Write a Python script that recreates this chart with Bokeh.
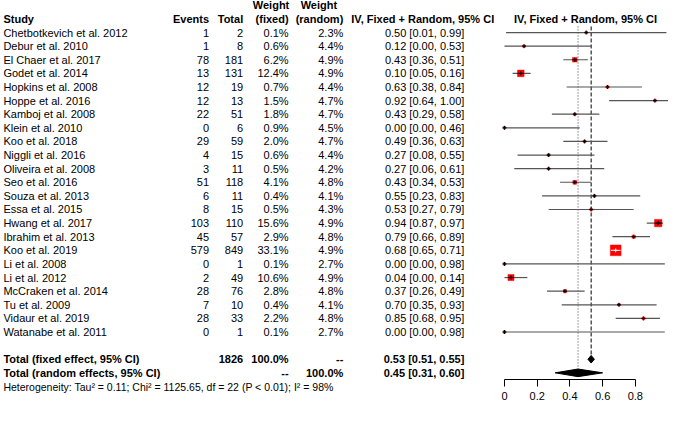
import math
from bokeh.plotting import figure
from bokeh.models import ColumnDataSource, Range1d, FixedTicker
from bokeh.core.properties import value
from bokeh.embed import file_html
from bokeh.resources import INLINE

# ---------------- data ----------------
studies = ["Chetbotkevich et al. 2012", "Debur et al. 2010", "El Chaer et al. 2017",
           "Godet et al. 2014", "Hopkins et al. 2008", "Hoppe et al. 2016",
           "Kamboj et al. 2008", "Klein et al. 2010", "Koo et al. 2018",
           "Niggli et al. 2016", "Oliveira et al. 2008", "Seo et al. 2016",
           "Souza et al. 2013", "Essa et al. 2015", "Hwang et al. 2017",
           "Ibrahim et al. 2013", "Koo et al. 2019", "Li et al. 2008", "Li et al. 2012",
           "McCraken et al. 2014", "Tu et al. 2009", "Vidaur et al. 2019",
           "Watanabe et al. 2011"]
events = [1, 1, 78, 13, 12, 12, 22, 0, 29, 4, 3, 51, 6, 8, 103, 45, 579, 0, 2, 28, 7, 28, 0]
totals = [2, 8, 181, 131, 19, 13, 51, 6, 59, 15, 11, 118, 11, 15, 110, 57, 849, 1, 49, 76, 10, 33, 1]
w_fixed = [0.1, 0.6, 6.2, 12.4, 0.7, 1.5, 1.8, 0.9, 2.0, 0.6, 0.5, 4.1, 0.4, 0.5, 15.6, 2.9,
           33.1, 0.1, 10.6, 2.8, 0.4, 2.2, 0.1]
w_random = [2.3, 4.4, 4.9, 4.9, 4.4, 4.7, 4.7, 4.5, 4.7, 4.4, 4.2, 4.8, 4.1, 4.3, 4.9, 4.8,
            4.9, 2.7, 4.9, 4.8, 4.1, 4.8, 2.7]
est = [0.50, 0.12, 0.43, 0.10, 0.63, 0.92, 0.43, 0.00, 0.49, 0.27, 0.27, 0.43, 0.55, 0.53,
       0.94, 0.79, 0.68, 0.00, 0.04, 0.37, 0.70, 0.85, 0.00]
lower = [0.01, 0.00, 0.36, 0.05, 0.38, 0.64, 0.29, 0.00, 0.36, 0.08, 0.06, 0.34, 0.23, 0.27,
         0.87, 0.66, 0.65, 0.00, 0.00, 0.26, 0.35, 0.68, 0.00]
upper = [0.99, 0.53, 0.51, 0.16, 0.84, 1.00, 0.58, 0.46, 0.63, 0.55, 0.61, 0.53, 0.83, 0.79,
         0.97, 0.89, 0.71, 0.98, 0.14, 0.49, 0.93, 0.95, 0.98]

total_n = 1826
total_weight = "100.0%"
fixed_est, fixed_lo, fixed_hi = 0.53, 0.51, 0.55
random_est, random_lo, random_hi = 0.45, 0.31, 0.60
heterogeneity = "Heterogeneity: Tau\u00b2 = 0.11; Chi\u00b2 = 1125.65, df = 22 (P < 0.01); I\u00b2 = 98%"
col_header = "IV, Fixed + Random, 95% CI"
ticks = [0, 0.2, 0.4, 0.6, 0.8]
tick_labels = ["0", "0.2", "0.4", "0.6", "0.8"]

# ---------------- layout helpers ----------------
W, H = 669, 405
SX = W / 685.0
X0, XU = 516.0, 167.5          # reference pixel of effect 0, pixels per effect unit
ROW0, ROWH = 19.15, 14.15      # reference pixel of row 0, row spacing


def ex(X):
    return (X - X0) / XU


def ry(Y):
    return (Y - ROW0) / ROWH


AXIS_Y = 394.0
PX_PER_UNIT = XU * SX
FONT = value("Liberation Sans")

p = figure(frame_width=W, frame_height=H,
           x_range=Range1d(ex(0), ex(685)), y_range=Range1d(ry(421), ry(0)),
           output_backend="svg", toolbar_location=None,
           min_border_left=0, min_border_right=0, min_border_top=0,
           min_border_bottom=0, y_axis_location=None)
p.grid.visible = False
p.outline_line_color = None

ax = p.xaxis[0]
ax.fixed_location = ry(AXIS_Y)
ax.ticker = FixedTicker(ticks=ticks)
ax.bounds = (ticks[0], ticks[-1])
ax.major_label_overrides = {t: l for t, l in zip(ticks, tick_labels)}
ax.minor_tick_line_color = None
ax.major_tick_in = 0
ax.major_tick_out = 7
ax.major_label_standoff = 5
ax.axis_line_color = "black"
ax.major_tick_line_color = "black"
ax.major_label_text_color = "black"
ax.major_label_text_font = "Liberation Sans"
ax.major_label_text_font_size = "11px"

n = len(studies)
rows = list(range(1, n + 1))
ROW_FIXED = n + 2
ROW_RANDOM = n + 3

# ---------------- reference lines ----------------
p.segment(x0=[fixed_est], y0=[ry(27)], x1=[fixed_est], y1=[ROW_FIXED - 0.3],
          line_color="black", line_width=1, line_dash="4 2")
p.segment(x0=[random_est], y0=[ry(27)], x1=[random_est], y1=[ROW_RANDOM - 0.3],
          line_color="#444444", line_width=1, line_dash="1 2")

# ---------------- study CIs and squares ----------------
sizes = [max(11 * SX * math.sqrt(w / max(w_fixed)), 2.5) for w in w_fixed]
hw = [s / 2 / PX_PER_UNIT for s in sizes]
inside = [(l >= e - h and u <= e + h) for e, l, u, h in zip(est, lower, upper, hw)]
src = ColumnDataSource(dict(
    y=rows, est=est, lo=lower, hi=upper, size=sizes,
    ilo=[max(l, e - h) for e, l, h in zip(est, lower, hw)],
    ihi=[min(u, e + h) for e, u, h in zip(est, upper, hw)],
    icol=["white" if f else "black" for f in inside],
))
p.segment(x0="lo", y0="y", x1="hi", y1="y", source=src, line_color="#555555", line_width=1.2)
p.scatter(x="est", y="y", size="size", marker="square", source=src,
          fill_color="red", line_color="red", line_width=0.5)
p.segment(x0="ilo", y0="y", x1="ihi", y1="y", source=src, line_color="icol", line_width=1)
p.scatter(x="est", y="y", size=4, marker="cross", source=src, line_color="icol", line_width=1)

# ---------------- diamonds ----------------
DH = 0.28
p.patches(xs=[[fixed_lo, fixed_est, fixed_hi, fixed_est],
              [random_lo, random_est, random_hi, random_est]],
          ys=[[ROW_FIXED, ROW_FIXED - DH, ROW_FIXED, ROW_FIXED + DH],
              [ROW_RANDOM, ROW_RANDOM - DH, ROW_RANDOM, ROW_RANDOM + DH]],
          fill_color="black", line_color="black", line_width=1)

# ---------------- text table ----------------
items = []  # (x, y, text, align, bold, size)


def add(X, row, txt, align, bold=False, size="11px"):
    items.append((ex(X), row, txt, align, bold, size))


# headers
add(277, -1, "Weight", "center", True)
add(326, -1, "Weight", "center", True)
add(3, 0, "Study", "left", True)
add(213.5, 0, "Events", "right", True)
add(248.5, 0, "Total", "right", True)
add(295, 0, "(fixed)", "right", True)
add(351, 0, "(random)", "right", True)
add(505.5, 0, col_header, "right", True)
add(599, 0, col_header, "center", True)

for r, s, ev, tt, wf, wr, e, l, u in zip(rows, studies, events, totals, w_fixed, w_random,
                                         est, lower, upper):
    add(3, r, s, "left")
    add(213.5, r, str(ev), "right")
    add(248.5, r, str(tt), "right")
    add(295, r, f"{wf:.1f}%", "right")
    add(351, r, f"{wr:.1f}%", "right")
    add(475, r, f"{e:.2f} [{l:.2f}, {u:.2f}]", "right")

add(3, ROW_FIXED, "Total (fixed effect, 95% CI)", "left", True)
add(248.5, ROW_FIXED, str(total_n), "right", True)
add(295, ROW_FIXED, total_weight, "right", True)
add(351, ROW_FIXED, "--", "right", True)
add(475, ROW_FIXED, f"{fixed_est:.2f} [{fixed_lo:.2f}, {fixed_hi:.2f}]", "right", True)

add(3, ROW_RANDOM, "Total (random effects, 95% CI)", "left", True)
add(295, ROW_RANDOM, "--", "right", True)
add(351, ROW_RANDOM, total_weight, "right", True)
add(475, ROW_RANDOM, f"{random_est:.2f} [{random_lo:.2f}, {random_hi:.2f}]", "right", True)

add(3, ry(401.7), heterogeneity, "left", False, "10.5px")

groups = sorted(set((it[3], it[4], it[5]) for it in items))
for align, bold, fsize in groups:
    sel = [it for it in items if (it[3], it[4], it[5]) == (align, bold, fsize)]
    ts = ColumnDataSource(dict(x=[it[0] for it in sel], y=[it[1] for it in sel],
                               text=[it[2] for it in sel]))
    p.text(x="x", y="y", text="text", source=ts, text_align=align,
           text_baseline="middle", text_font=FONT, text_font_size=value(fsize),
           text_font_style="bold" if bold else "normal", text_color="black")

open("out.html", "w").write(file_html(p, INLINE))
